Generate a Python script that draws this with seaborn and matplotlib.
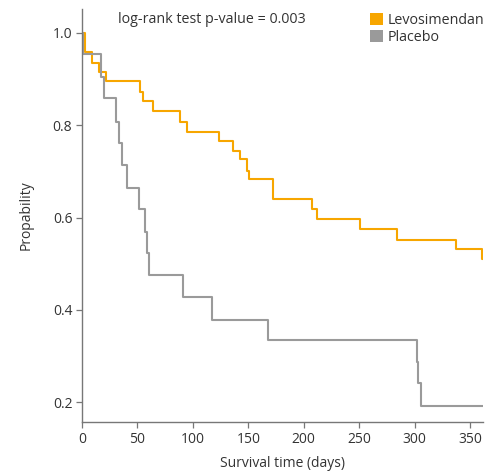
import matplotlib
matplotlib.use("Agg")
import matplotlib.pyplot as plt
import seaborn as sns
import pandas as pd
from matplotlib.patches import Patch

# Kaplan-Meier step data (time in days, survival probability)
levo_time = [0, 2.7, 8.7, 15.6, 21.6, 52.6, 55.3, 64.3, 88.4, 94.4, 123.9, 135.9,
             142.5, 148.5, 150.9, 172.6, 207.2, 211.7, 250.8, 283.9, 337.3, 360.5, 365]
levo_surv = [1.0, 0.959, 0.936, 0.916, 0.896, 0.873, 0.853, 0.832, 0.808, 0.785, 0.765, 0.744,
             0.726, 0.701, 0.683, 0.641, 0.618, 0.597, 0.575, 0.552, 0.532, 0.510, 0.510]

plac_time = [0, 1.0, 17.1, 19.8, 30.7, 33.7, 35.8, 40.3, 51.7, 56.8, 58.3, 60.4,
             90.8, 117.0, 168.1, 301.9, 303.4, 305.8, 361.4]
plac_surv = [1.0, 0.954, 0.905, 0.859, 0.808, 0.761, 0.714, 0.665, 0.619, 0.568, 0.523, 0.476,
             0.427, 0.379, 0.335, 0.286, 0.241, 0.192, 0.192]

groups = ["Levosimendan", "Placebo"]
colors = ["#F7A600", "#9A9A9A"]
x_ticks = [0, 50, 100, 150, 200, 250, 300, 350]
y_ticks = [0.2, 0.4, 0.6, 0.8, 1.0]
title_text = "log-rank test p-value = 0.003"

df = pd.concat([
    pd.DataFrame({"time": levo_time, "surv": levo_surv, "group": groups[0]}),
    pd.DataFrame({"time": plac_time, "surv": plac_surv, "group": groups[1]}),
])

sns.set_style("ticks")
plt.rcParams['font.family'] = ['Open Sans', 'DejaVu Sans']
text_col = "#333333"
spine_col = "#777777"

fig = plt.figure(figsize=(4.94, 4.74), dpi=100)
ax = fig.add_axes([82/494, 1-422/474, (483-82)/494, (422-9)/474])

sns.lineplot(data=df, x="time", y="surv", hue="group", palette=colors,
             estimator=None, drawstyle="steps-post", linewidth=1.5, ax=ax,
             legend=False, sort=False)

ax.set_xlim(0, 361.7)
ax.set_ylim(0.157, 1.052)
ax.set_xticks(x_ticks)
ax.set_yticks(y_ticks)
ax.set_yticklabels([f"{v:.1f}" for v in y_ticks])
ax.set_xlabel("Survival time (days)", fontsize=10, color=text_col, labelpad=7)
ax.set_ylabel("Propability", fontsize=10, color=text_col, labelpad=14)
ax.tick_params(axis="both", labelsize=10, colors=text_col, length=4, width=0.9, color=spine_col, pad=3)
for s in ["top", "right"]:
    ax.spines[s].set_visible(False)
for s in ["left", "bottom"]:
    ax.spines[s].set_color(spine_col)
    ax.spines[s].set_linewidth(1.0)

ax.text(0.09, 0.975, title_text, transform=ax.transAxes, fontsize=10.3,
        color=text_col, ha="left", va="center")

handles = [Patch(facecolor=c, edgecolor="none") for c in colors]
leg = ax.legend(handles, groups, loc="upper left", bbox_to_anchor=(0.705, 1.005),
                frameon=False, fontsize=10.3, handlelength=0.9, handleheight=0.9,
                handletextpad=0.3, labelspacing=0.15, borderaxespad=0)
for t in leg.get_texts():
    t.set_color(text_col)

fig.savefig("out.png", dpi=100)
